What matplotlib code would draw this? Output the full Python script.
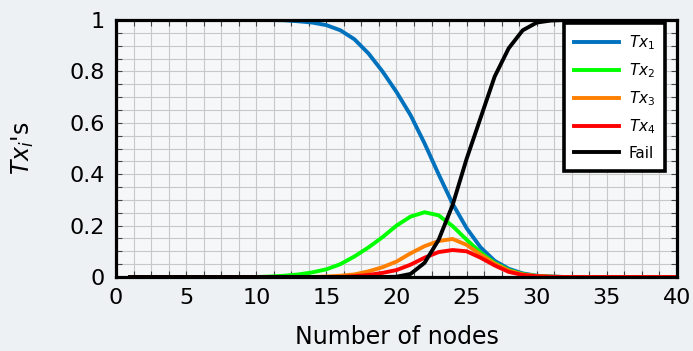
import numpy as np
import matplotlib.pyplot as plt
from matplotlib.ticker import MultipleLocator, FuncFormatter

# ---- data ----
nodes = list(range(1, 41))

tx1 = [1.0] * 11 + [0.999, 0.995, 0.99, 0.98, 0.96, 0.925, 0.87, 0.80, 0.72,
                    0.63, 0.52, 0.40, 0.285, 0.19, 0.115, 0.063, 0.032, 0.014,
                    0.005, 0.002] + [0.0] * 9
tx2 = [0.0] * 10 + [0.002, 0.005, 0.01, 0.018, 0.03, 0.05, 0.08, 0.115, 0.155,
                    0.20, 0.235, 0.252, 0.24, 0.198, 0.145, 0.095, 0.055, 0.027,
                    0.011, 0.004, 0.001] + [0.0] * 9
tx3 = [0.0] * 14 + [0.002, 0.005, 0.01, 0.022, 0.038, 0.06, 0.092, 0.12, 0.14,
                    0.148, 0.125, 0.087, 0.052, 0.025, 0.01, 0.004, 0.001] + [0.0] * 9
tx4 = [0.0] * 16 + [0.003, 0.008, 0.016, 0.027, 0.048, 0.075, 0.097, 0.105,
                    0.10, 0.075, 0.045, 0.02, 0.008, 0.003, 0.001] + [0.0] * 9
fail = [0.0] * 19 + [0.001, 0.012, 0.055, 0.144, 0.28, 0.46, 0.62, 0.78, 0.89,
                     0.96, 0.99, 0.998] + [1.0] * 9

series = [
    (tx1, "#0072BD", r"$Tx_1$"),
    (tx2, "#00FF00", r"$Tx_2$"),
    (tx3, "#FF8000", r"$Tx_3$"),
    (tx4, "#FF0000", r"$Tx_4$"),
    (fail, "black", "Fail"),
]

# ---- figure ----
fig = plt.figure(figsize=(6.93, 3.51), dpi=100)
fig.patch.set_facecolor("#eef1f3")
ax = fig.add_axes([0.1674, 0.2108, 0.8095, 0.7322])
ax.set_facecolor("#f6f7f8")

for vals, col, lab in series:
    ax.plot(nodes, vals, color=col, linewidth=2.8, label=lab,
            solid_joinstyle="round")

ax.set_xlim(0, 40)
ax.set_ylim(0, 1)

ax.xaxis.set_major_locator(MultipleLocator(5))
ax.xaxis.set_minor_locator(MultipleLocator(1.25))
ax.yaxis.set_major_locator(MultipleLocator(0.2))
ax.yaxis.set_minor_locator(MultipleLocator(0.05))
ax.yaxis.set_major_formatter(FuncFormatter(lambda v, p: f"{v:g}"))

ax.grid(True, which="both", color="#c8c8c8", linewidth=0.8)
ax.set_axisbelow(True)

ax.tick_params(which="both", direction="in", top=True, right=True,
               color="#444444", width=0.8)
ax.tick_params(which="major", length=4, labelsize=16, pad=8)
ax.tick_params(which="minor", length=4)

for s in ax.spines.values():
    s.set_linewidth(2.3)
    s.set_color("black")

ax.set_xlabel("Number of nodes", fontsize=17, labelpad=12)
ax.set_ylabel(r"$Tx_i$'s", fontsize=17, labelpad=24)

leg = ax.legend(loc="upper right", bbox_to_anchor=(0.9786, 0.988),
                borderaxespad=0, fontsize=11, handlelength=3.0,
                handletextpad=0.6, labelspacing=0.62, fancybox=False,
                framealpha=1, facecolor="white", edgecolor="black",
                borderpad=0.65)
leg.get_frame().set_linewidth(2.6)

fig.savefig("out.png", dpi=100, facecolor=fig.get_facecolor())
